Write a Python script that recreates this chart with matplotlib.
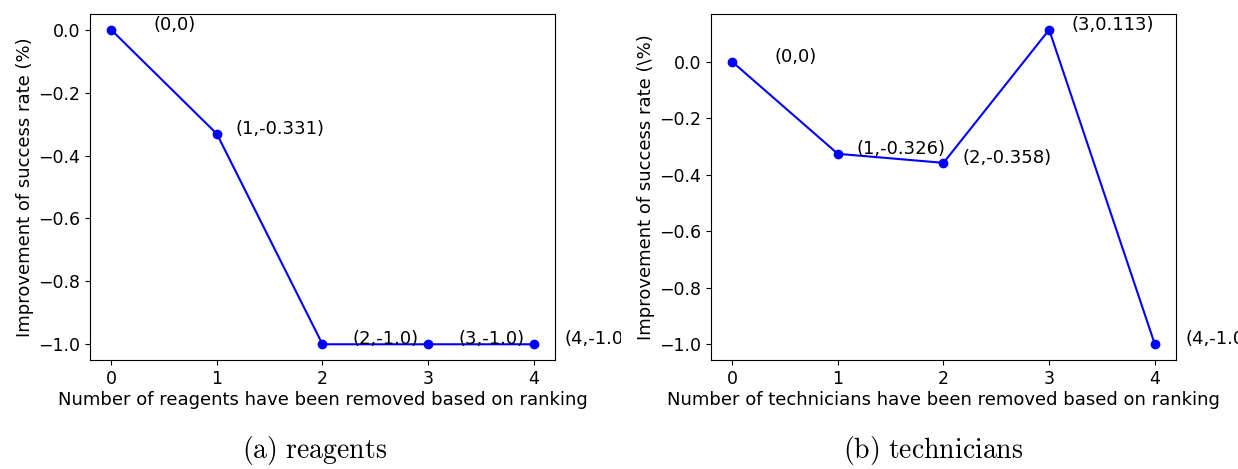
import numpy as np
import matplotlib
matplotlib.use("Agg")
import matplotlib.pyplot as plt
from matplotlib.transforms import Bbox, TransformedBbox

plt.rcParams['mathtext.fontset'] = 'cm'

# data
removed = [0, 1, 2, 3, 4]
reagents_vals = [0, -0.331, -1.0, -1.0, -1.0]
technicians_vals = [0, -0.326, -0.358, 0.113, -1.0]
reagents_labels = ["(0,0)", "(1,-0.331)", "(2,-1.0)", "(3,-1.0)", "(4,-1.0)"]
technicians_labels = ["(0,0)", "(1,-0.326)", "(2,-0.358)", "(3,0.113)", "(4,-1.0)"]

fig = plt.figure(figsize=(12.38, 4.69), dpi=100)
ax1 = fig.add_axes([0.0727, 0.2324, 0.3756, 0.7377])
ax2 = fig.add_axes([0.5743, 0.2324, 0.3756, 0.7377])


def draw(ax, xs, ys, labels, xlabel, ylabel, clip=None):
    ax.plot(xs, ys, color='b', marker='o', markersize=6, linewidth=1.5)
    for x, y, lab in zip(xs, ys, labels):
        t = ax.text(x + 0.6, y, lab, ha='center', va='baseline', fontsize=13)
        if clip is not None:
            t.set_clip_on(True)
            t.set_clip_box(clip)
    ax.set_xticks(xs)
    ax.tick_params(labelsize=12.5)
    ax.set_xlabel(xlabel, fontsize=13, labelpad=2)
    ax.set_ylabel(ylabel, fontsize=13, labelpad=3)


# left panel text gets cut at the middle of the figure, like the original
left_clip = TransformedBbox(Bbox.from_extents(0, 0, 0.502, 1), fig.transFigure)
draw(ax1, removed, reagents_vals, reagents_labels,
     "Number of reagents have been removed based on ranking",
     "Improvement of success rate (%)", clip=left_clip)
draw(ax2, removed, technicians_vals, technicians_labels,
     "Number of technicians have been removed based on ranking",
     "Improvement of success rate (\\%)")

fig.text(0.2544, 0.024, r'$\mathrm{(a)\ reagents}$', ha='center', va='baseline', fontsize=20)
fig.text(0.7536, 0.024, r'$\mathrm{(b)\ technicians}$', ha='center', va='baseline', fontsize=20)

fig.savefig("out.png", dpi=100)
